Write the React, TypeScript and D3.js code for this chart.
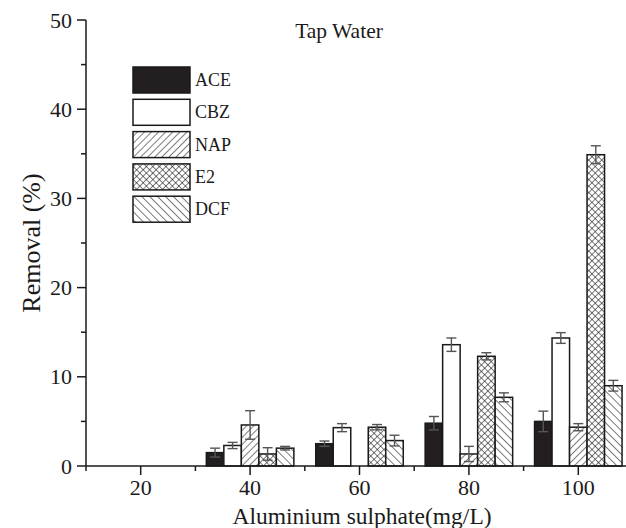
import React, { useEffect, useRef } from 'react';
import * as d3 from 'd3';

// doses on the x axis (mg/L)
const doses = [40, 60, 80, 100];
const compounds = ['ACE', 'CBZ', 'NAP', 'E2', 'DCF'];

// removal (%) per compound, one value per dose
const aceVals = [1.5, 2.5, 4.8, 5.0];
const aceErr = [0.5, 0.3, 0.75, 1.15];
const cbzVals = [2.3, 4.3, 13.6, 14.35];
const cbzErr = [0.35, 0.45, 0.75, 0.6];
const napVals = [4.6, 0, 1.35, 4.35];
const napErr = [1.6, 0, 0.85, 0.4];
const e2Vals = [1.35, 4.35, 12.3, 34.9];
const e2Err = [0.7, 0.3, 0.4, 1.0];
const dcfVals = [2.0, 2.85, 7.7, 9.0];
const dcfErr = [0.2, 0.6, 0.5, 0.6];

const xMajor = [20, 40, 60, 80, 100];
const xMinor = [10, 30, 50, 70, 90, 110];
const yMajor = [0, 10, 20, 30, 40, 50];
const yMinor = [5, 15, 25, 35, 45];

const FONT = '"Liberation Serif", "Times New Roman", serif';

const App = () => {
  const svgRef = useRef<SVGSVGElement>(null);

  useEffect(() => {
    const svg = d3.select(svgRef.current);
    svg.selectAll('*').remove();

    const x = d3.scaleLinear().domain([10, 110]).range([86, 633]);
    const y = d3.scaleLinear().domain([0, 50]).range([466, 20]);
    const barW = 3.2; // in x units

    // hatch patterns
    const defs = svg.append('defs');
    const hatch = (id, angle, size, cross) => {
      const p = defs.append('pattern')
        .attr('id', id)
        .attr('patternUnits', 'userSpaceOnUse')
        .attr('width', size)
        .attr('height', size)
        .attr('patternTransform', `rotate(${angle})`);
      p.append('rect').attr('width', size).attr('height', size).attr('fill', '#fff');
      p.append('line').attr('x1', 0).attr('y1', 0).attr('x2', 0).attr('y2', size)
        .attr('stroke', '#111').attr('stroke-width', 1.1);
      if (cross) {
        p.append('line').attr('x1', 0).attr('y1', 0).attr('x2', size).attr('y2', 0)
          .attr('stroke', '#111').attr('stroke-width', 1.1);
      }
    };
    hatch('nap', 45, 5, false);
    hatch('e2', 45, 4.6, true);
    hatch('dcf', -45, 5.6, false);

    const fills = ['#231f20', '#fff', 'url(#nap)', 'url(#e2)', 'url(#dcf)'];
    const series = [
      { vals: aceVals, err: aceErr },
      { vals: cbzVals, err: cbzErr },
      { vals: napVals, err: napErr },
      { vals: e2Vals, err: e2Err },
      { vals: dcfVals, err: dcfErr },
    ];

    const g = svg.append('g');

    // bars
    series.forEach((s, i) => {
      doses.forEach((dose, j) => {
        const v = s.vals[j];
        if (!v) return;
        const x0 = x(dose + (i - 2.5) * barW);
        const x1 = x(dose + (i - 1.5) * barW);
        g.append('rect')
          .attr('x', x0)
          .attr('y', y(v))
          .attr('width', x1 - x0)
          .attr('height', y(0) - y(v))
          .attr('fill', fills[i])
          .attr('stroke', '#1a1a1a')
          .attr('stroke-width', 1.5);
      });
    });

    // error bars
    series.forEach((s, i) => {
      doses.forEach((dose, j) => {
        const v = s.vals[j];
        if (!v) return;
        const cx = x(dose + (i - 2) * barW);
        const hi = y(v + s.err[j]);
        const lo = y(Math.max(0, v - s.err[j]));
        const eg = g.append('g').attr('stroke', '#555').attr('stroke-width', 1.4);
        eg.append('line').attr('x1', cx).attr('x2', cx).attr('y1', hi).attr('y2', lo);
        eg.append('line').attr('x1', cx - 5).attr('x2', cx + 5).attr('y1', hi).attr('y2', hi);
        eg.append('line').attr('x1', cx - 5).attr('x2', cx + 5).attr('y1', lo).attr('y2', lo);
      });
    });

    // axes
    const ax = svg.append('g').attr('stroke', '#1a1a1a').attr('stroke-width', 1.5);
    ax.append('line').attr('x1', x(10)).attr('x2', 626).attr('y1', y(0)).attr('y2', y(0));
    ax.append('line').attr('x1', x(10)).attr('x2', x(10)).attr('y1', y(0)).attr('y2', y(50));
    xMajor.forEach(t => {
      ax.append('line').attr('x1', x(t)).attr('x2', x(t)).attr('y1', y(0)).attr('y2', y(0) + 9);
    });
    xMinor.forEach(t => {
      ax.append('line').attr('x1', x(t)).attr('x2', x(t)).attr('y1', y(0)).attr('y2', y(0) + 5);
    });
    yMajor.forEach(t => {
      ax.append('line').attr('x1', x(10) - 9).attr('x2', x(10)).attr('y1', y(t)).attr('y2', y(t));
    });
    yMinor.forEach(t => {
      ax.append('line').attr('x1', x(10) - 5).attr('x2', x(10)).attr('y1', y(t)).attr('y2', y(t));
    });

    const txt = svg.append('g').attr('font-family', FONT).attr('fill', '#1a1a1a');
    xMajor.forEach(t => {
      txt.append('text').attr('x', x(t)).attr('y', 495)
        .attr('text-anchor', 'middle').attr('font-size', 22).text(t);
    });
    yMajor.forEach(t => {
      txt.append('text').attr('x', x(10) - 14).attr('y', y(t) + 7.5)
        .attr('text-anchor', 'end').attr('font-size', 22).text(t);
    });
    txt.append('text').attr('x', 362).attr('y', 524)
      .attr('text-anchor', 'middle').attr('font-size', 23.5).text('Aluminium sulphate(mg/L)');
    txt.append('text').attr('transform', `translate(40,${y(25)}) rotate(-90)`)
      .attr('text-anchor', 'middle').attr('font-size', 26).text('Removal (%)');
    txt.append('text').attr('x', 339).attr('y', 38)
      .attr('text-anchor', 'middle').attr('font-size', 21.5).text('Tap Water');

    // legend
    const lg = svg.append('g');
    compounds.forEach((c, i) => {
      const ly = 67 + i * 32.3;
      lg.append('rect').attr('x', 133).attr('y', ly).attr('width', 57).attr('height', 26)
        .attr('fill', fills[i]).attr('stroke', '#1a1a1a').attr('stroke-width', 1.5);
      lg.append('text').attr('x', 195).attr('y', ly + 19)
        .attr('font-family', FONT).attr('font-size', 18).attr('fill', '#1a1a1a').text(c);
    });
  }, []);

  return (
    <svg
      ref={svgRef}
      width={626}
      height={528}
      style={{ position: 'absolute', left: 0, top: 0, background: '#fff' }}
    />
  );
};

export default App;
